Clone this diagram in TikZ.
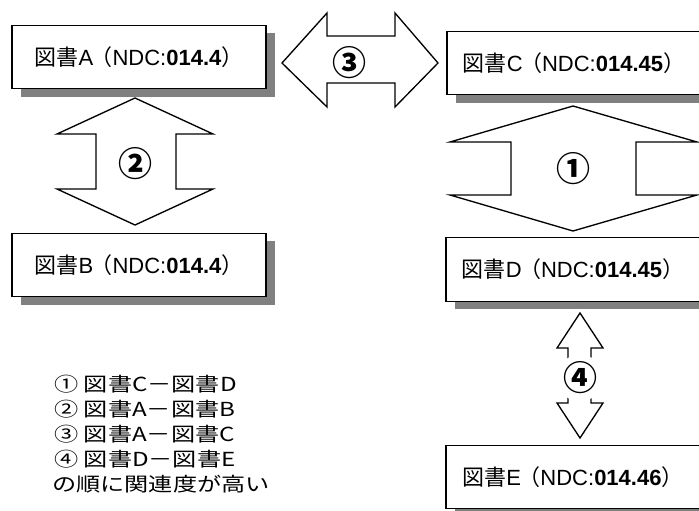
\documentclass[tikz,border=0pt]{standalone}
\usepackage{fontspec}
\setmainfont{Liberation Sans}
\newfontfamily\jp{Noto Sans CJK JP}
\newfontfamily\jpw[FakeStretch=1.25]{Noto Sans CJK JP}
\usetikzlibrary{shadows}
\tikzset{
  book/.style={draw=black, line width=0.8pt, fill=white,
    minimum width=190.5pt, minimum height=47.5pt, inner sep=0pt,
    font=\fontsize{16.5}{19}\selectfont,
    drop shadow={shadow xshift=6.75pt, shadow yshift=-6pt, fill=black!50, opacity=1}},
  blockarrow/.style={draw=black, line width=1pt, fill=white, line join=miter},
  num/.style={font=\jp\bfseries\fontsize{25.5}{26}\selectfont, inner sep=0pt},
  legend/.style={font=\jpw\fontsize{14.5}{16}\selectfont, anchor=west, inner sep=0pt}
}
\newcommand{\booklabel}[2]{{\jp 図書}#1{\jp\kern-2pt（}NDC:\textbf{#2}{\jp ）}}
\begin{document}
\begin{tikzpicture}[x=0.75pt,y=-0.75pt]
\useasboundingbox (0,0) rectangle (699,510);
\fill[white] (0,0) rectangle (699,510);
\begin{scope}
\clip (0,0) rectangle (699,510);
% block arrows
\draw[blockarrow] (282,63) -- (327,13) -- (327,36) -- (395,36) -- (395,13) -- (438,63)
  -- (395,107) -- (395,83) -- (327,83) -- (327,107) -- cycle;
\draw[blockarrow] (135,98) -- (213,134) -- (176,134) -- (176,189) -- (213,189) -- (135,225)
  -- (57,189) -- (96,189) -- (96,134) -- (57,134) -- cycle;
\draw[blockarrow] (573,106) -- (697,142) -- (636,142) -- (636,195) -- (697,195) -- (573,231)
  -- (450,195) -- (511,195) -- (511,142) -- (450,142) -- cycle;
\draw[blockarrow] (580,313) -- (603,348) -- (591,348) -- (591,403) -- (603,403) -- (580,438)
  -- (557,403) -- (568,403) -- (568,348) -- (557,348) -- cycle;
% boxes
\node[book] (A) at (139,57) {\booklabel{A}{014.4}};
\node[book] (B) at (139,265) {\booklabel{B}{014.4}};
\node[book] (C) at (574,63) {\booklabel{C}{014.45}};
\node[book] (D) at (573,269.5) {\booklabel{D}{014.45}};
\node[book] (E) at (573,477) {\booklabel{E}{014.46}};
% numbers
\node[num] (n3) at (349,63) {③};
\node[num] (n2) at (135,164) {②};
\node[num] (n1) at (573,169) {①};
\node[num, fill=white, circle, inner sep=0pt] (n4) at (580,378) {④};
% legend
\node[legend] (L1) at (54,384) {① 図書C－図書D};
\node[legend] (L2) at (54,409) {② 図書A－図書B};
\node[legend] (L3) at (54,434) {③ 図書A－図書C};
\node[legend] (L4) at (54,459) {④ 図書D－図書E};
\node[legend] (L5) at (52,484) {の順に関連度が高い};
\end{scope}
\end{tikzpicture}
\end{document}
